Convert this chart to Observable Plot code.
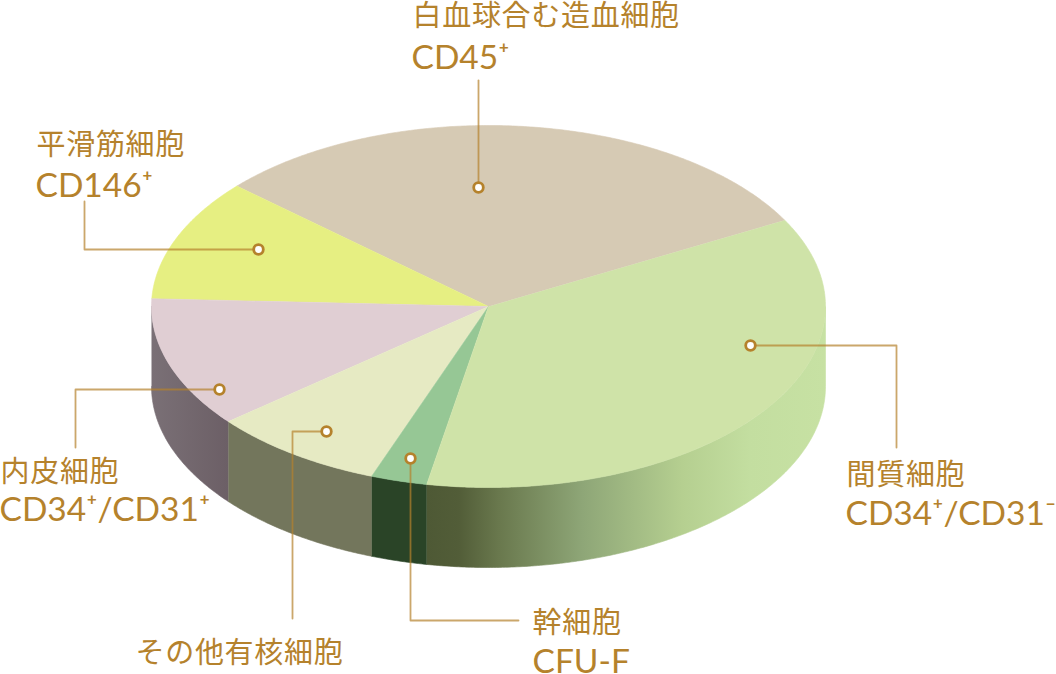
<!DOCTYPE html>
<html lang="ja">
<head>
<meta charset="utf-8">
<style>
html,body{margin:0;padding:0;background:#fff;overflow:hidden}
svg{display:block}
g[font-family*="CJK"] text, text[font-family*="CJK"]{letter-spacing:.7px}
</style>
<script src="https://cdn.jsdelivr.net/npm/d3@7"></script>
<script src="https://cdn.jsdelivr.net/npm/@observablehq/plot@0.6"></script>
</head>
<body>
<div id="chart"></div>
<script>
// Chart data (percent of the pie, counter-clockwise)
const categories = ["白血球合む造血細胞", "平滑筋細胞", "内皮細胞", "その他有核細胞", "幹細胞", "間質細胞"];
const markers = ["CD45⁺", "CD146⁺", "CD34⁺/CD31⁺", "", "CFU-F", "CD34⁺/CD31⁻"];
const shares = [30.5, 10.9, 11.65, 8.4, 2.7, 35.85];

// Styles
const topColors = ["#d6cab4", "#e6ef82", "#e0ced3", "#e6eac3", "#96c795", "#cfe3a8"];
const sideColors = [null, null, "url(#sidePink)", "#73765c", "#2a4427", "url(#sideGreen)"];
const ink = "#b5822c";

// Layout of the drawing (canvas units)
const pie = {cx: 488, cy: 306, rx: 337, ry: 181, depth: 80, start: 28.5};
const anchors = [[478,187],[258,249],[219,389],[326,431],[410,458],[750,345]];
const elbows = [
  [[478,80]],
  [[84,249],[84,201]],
  [[75,389],[75,447]],
  [[292,431],[292,618]],
  [[410,620],[518,620]],
  [[896,345],[896,447]]
];
const nameAt = [[412,25],[36,154],[0,481],[135,662],[532,632],[846,484]];
const markerAt = [[411,68],[35,196],[-1,520],[135,661],[532,672],[845,524]];

// Slice angles from the shares
const rad = d => d * Math.PI / 180;
let acc = pie.start;
const slices = shares.map((s, i) => {
  const a0 = acc; acc += s * 3.6;
  return {i, a0, a1: acc};
});
const onRim = (a, drop = 0) => ({
  x: pie.cx + pie.rx * Math.cos(rad(a)),
  y: pie.cy - pie.ry * Math.sin(rad(a)) + drop
});
const arc = (a0, a1, drop = 0) => {
  const n = Math.max(2, Math.ceil((a1 - a0) * 2));
  return d3.range(n + 1).map(k => onRim(a0 + (a1 - a0) * k / n, drop));
};
const wedge = s => [{x: pie.cx, y: pie.cy}, ...arc(s.a0, s.a1)];
const wall = s => {
  const a0 = Math.max(s.a0, 180), a1 = Math.min(s.a1, 360);
  if (a1 <= a0) return [];
  return [...arc(a0, a1), ...arc(a0, a1, pie.depth).reverse()];
};

const gradient = (id, stops) => () => {
  const defs = d3.create("svg:defs");
  const g = defs.append("linearGradient").attr("id", id).attr("x1", 0).attr("x2", 1).attr("y1", 0).attr("y2", 0);
  stops.forEach(([o, c]) => g.append("stop").attr("offset", o).attr("stop-color", c));
  return defs.node();
};

const leaderRows = anchors.flatMap((p, i) =>
  [p, ...elbows[i]].map(q => ({x: q[0], y: q[1], i})));
const row = (pos, texts) => texts.map((t, i) => ({t, x: pos[i][0], y: pos[i][1]})).filter(d => d.t);

const chart = Plot.plot({
  width: 1056, height: 674, margin: 0,
  x: {domain: [0, 1056], range: [0, 1056], axis: null},
  y: {domain: [0, 674], range: [0, 674], axis: null},
  marks: [
    gradient("sideGreen", [[0,"#4e5935"],[0.08,"#525d38"],[0.18,"#69784d"],[0.39,"#8ea677"],[0.64,"#b5cf90"],[0.81,"#c3dea0"],[1,"#c7e1a3"]]),
    gradient("sidePink", [[0,"#7a7076"],[1,"#6c5f66"]]),
    ...slices.filter(s => sideColors[s.i]).map(s =>
      Plot.line(wall(s), {x: "x", y: "y", fill: sideColors[s.i], stroke: sideColors[s.i], strokeWidth: 0.6})),
    ...slices.map(s =>
      Plot.line(wedge(s), {x: "x", y: "y", fill: topColors[s.i], stroke: topColors[s.i], strokeWidth: 0.6})),
    Plot.line(leaderRows, {x: "x", y: "y", z: "i", stroke: ink, strokeWidth: 1.8, strokeOpacity: 0.7, curve: "linear"}),
    Plot.dot(anchors.map(p => ({x: p[0], y: p[1]})), {x: "x", y: "y", r: 4.8, fill: "#fff", stroke: ink, strokeWidth: 2.8}),
    Plot.text(row(nameAt, categories), {
      x: "x", y: "y", text: "t", textAnchor: "start", lineAnchor: "bottom", fill: ink,
      fontFamily: "'Noto Sans CJK JP'", fontSize: 29, fontWeight: 400
    }),
    Plot.text(row(markerAt, markers), {
      x: "x", y: "y", text: "t", textAnchor: "start", lineAnchor: "bottom", fill: ink,
      fontFamily: "Lato", fontSize: 33.5, fontWeight: 400
    })
  ]
});
document.getElementById("chart").append(chart);
</script>
</body>
</html>
